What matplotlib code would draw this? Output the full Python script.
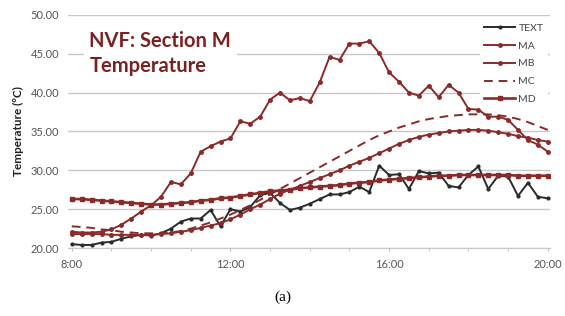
#!/usr/bin/env python3
"""
NVF Section M temperature profiles (TEXT, MA-MD) over one day.
"""

import numpy as np
import matplotlib
matplotlib.use('Agg')
import matplotlib.pyplot as plt

# Sample times: every 15 min from 8:00 to 20:00
hours = np.arange(8, 20.01, 0.25)

text_temp = [20.5, 20.4, 20.4, 20.7, 20.8, 21.2, 21.5, 21.7, 21.6, 21.9,
             22.5, 23.4, 23.8, 23.8, 24.9, 22.8, 25.0, 24.7, 25.3, 26.8,
             27.1, 25.8, 24.9, 25.2, 25.7, 26.3, 26.9, 26.9, 27.2, 27.9,
             27.2, 30.6, 29.4, 29.5, 27.6, 29.9, 29.6, 29.7, 28.0, 27.8,
             29.4, 30.5, 27.6, 29.3, 29.2, 26.7, 28.4, 26.6, 26.4]

ma_temp = [22.1, 22.0, 22.0, 22.1, 22.4, 23.0, 23.8, 24.7, 25.5, 26.6,
           28.5, 28.2, 29.6, 32.4, 33.1, 33.7, 34.1, 36.3, 36.0, 36.9,
           39.1, 40.0, 39.0, 39.3, 38.9, 41.3, 44.6, 44.2, 46.3, 46.3,
           46.6, 45.1, 42.6, 41.4, 40.0, 39.6, 40.9, 39.4, 41.0, 40.0,
           37.9, 37.8, 36.9, 36.9, 36.5, 35.2, 33.9, 33.3, 32.4]

mb_temp = [21.8, 21.8, 21.8, 21.8, 21.7, 21.7, 21.7, 21.7, 21.7, 21.8,
           21.9, 22.1, 22.3, 22.6, 22.9, 23.2, 23.7, 24.3, 25.0, 25.6,
           26.3, 27.0, 27.5, 28.0, 28.5, 29.0, 29.5, 30.0, 30.6, 31.1,
           31.6, 32.2, 32.8, 33.4, 33.9, 34.3, 34.6, 34.8, 35.0, 35.1,
           35.2, 35.2, 35.1, 34.9, 34.7, 34.4, 34.2, 33.9, 33.7]

mc_temp = [22.8, 22.7, 22.6, 22.4, 22.3, 22.1, 22.0, 21.9, 21.9, 21.9,
           22.0, 22.2, 22.5, 22.9, 23.3, 23.8, 24.3, 24.9, 25.5, 26.2,
           26.9, 27.6, 28.3, 29.0, 29.7, 30.4, 31.1, 31.8, 32.5, 33.2,
           33.9, 34.5, 35.0, 35.5, 35.9, 36.3, 36.6, 36.8, 37.0, 37.1,
           37.2, 37.2, 37.2, 37.1, 36.9, 36.6, 36.2, 35.7, 35.2]

md_temp = [26.3, 26.3, 26.2, 26.1, 26.0, 25.9, 25.8, 25.7, 25.6, 25.6,
           25.7, 25.8, 25.9, 26.1, 26.2, 26.4, 26.5, 26.7, 26.9, 27.1,
           27.3, 27.4, 27.5, 27.7, 27.8, 27.9, 28.0, 28.1, 28.3, 28.4,
           28.5, 28.7, 28.8, 28.9, 29.0, 29.1, 29.2, 29.3, 29.3, 29.4,
           29.4, 29.4, 29.4, 29.4, 29.4, 29.3, 29.3, 29.3, 29.3]

x_ticks = [8, 12, 16, 20]
x_labels = ['8:00', '12:00', '16:00', '20:00']

red = '#8b2a2a'
plt.rcParams['font.family'] = ['Lato', 'DejaVu Sans']

fig = plt.figure(figsize=(5.65, 3.16), dpi=100)
ax = fig.add_axes([0.120, 0.215, 0.853, 0.738])

ax.plot(hours, text_temp, color='#2b2b2b', lw=1.4, marker='o', ms=2, label='TEXT')
ax.plot(hours, ma_temp, color=red, lw=1.4, marker='o', ms=2.5, label='MA')
ax.plot(hours, mb_temp, color=red, lw=1.4, marker='o', ms=2.5, label='MB')
ax.plot(hours, mc_temp, color=red, lw=1.4, ls=(0, (4.5, 3)), label='MC')
ax.plot(hours, md_temp, color=red, lw=1.9, marker='s', ms=3.5, label='MD')

ax.set_xlim(7.9, 20.05)
ax.set_ylim(20, 50)
ax.set_yticks(np.arange(20, 50.1, 5))
ax.set_yticklabels([f'{v:.2f}' for v in np.arange(20, 50.1, 5)])
ax.set_xticks(x_ticks)
ax.set_xticklabels(x_labels)
ax.set_xticks(np.arange(8, 21, 1), minor=True)
ax.tick_params(axis='both', labelsize=8, colors='#555555', length=0, pad=6)
ax.tick_params(axis='x', which='both', length=2, color='#bbbbbb', direction='out')

ax.grid(axis='y', color='#c8c8c8', lw=1)
ax.set_axisbelow(True)
for s in ['top', 'right', 'left']:
    ax.spines[s].set_visible(False)
ax.spines['bottom'].set_color('#c8c8c8')

ax.set_ylabel('Temperature (ºC)', fontsize=8.5, fontweight='bold', color='#222222', labelpad=5)

ax.text(0.045, 0.93, 'NVF: Section M\nTemperature', transform=ax.transAxes,
        fontsize=14.5, fontweight='bold', color='#7a2222', va='top', ha='left',
        linespacing=1.3,
        bbox=dict(facecolor='white', edgecolor='none', pad=4))

leg = ax.legend(loc='upper right', bbox_to_anchor=(1.0, 0.99), fontsize=7.5,
                frameon=True, fancybox=False, edgecolor='none', framealpha=1,
                handlelength=3, labelspacing=0.82, handletextpad=0.3,
                borderaxespad=0.2)
for t in leg.get_texts():
    t.set_color('#444444')

fig.text(0.5, 0.06, '(a)', ha='center', va='center', fontsize=11,
         family='Liberation Serif')

fig.savefig('out.png', dpi=100)
